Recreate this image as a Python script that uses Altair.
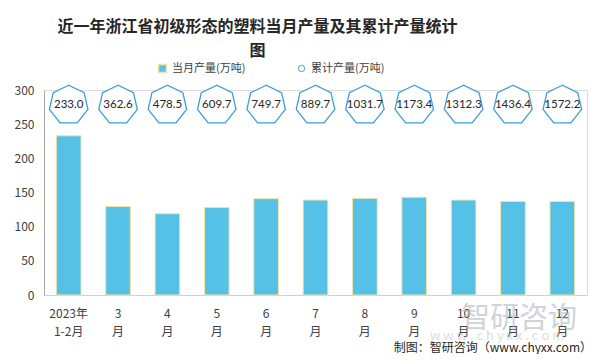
import altair as alt
import numpy as np
import pandas as pd

months = ["2023年1-2月", "3月", "4月", "5月", "6月", "7月", "8月", "9月", "10月", "11月", "12月"]
monthly = [233.0, 129.6, 119.0, 128.0, 141.0, 139.0, 141.5, 143.0, 139.0, 137.0, 137.0]
cumulative = [233.0, 362.6, 478.5, 609.7, 749.7, 889.7, 1031.7, 1173.4, 1312.3, 1436.4, 1572.2]
y_ticks = [0, 50, 100, 150, 200, 250, 300]

s_month = "当月产量(万吨)"
s_cum = "累计产量(万吨)"

df = pd.DataFrame({
    "month": months,
    "monthly": monthly,
    "cum": cumulative,
    "cum_label": [f"{v:.1f}" for v in cumulative],
    "s1": s_month,
    "s2": s_cum,
})

# heptagon path (vertex on top)
ang = np.pi / 2 + np.arange(7) * 2 * np.pi / 7
hept = "M" + " L".join(f"{np.cos(a):.4f},{-np.sin(a):.4f}" for a in ang) + " Z"

FONT = "Noto Sans CJK SC"
label_expr = ("datum.label == '2023年1-2月' ? ['2023年', '1-2月'] : "
              "[replace(datum.label, '月', ''), '月']")

x_enc = alt.X("month:N", sort=months, title=None,
              scale=alt.Scale(paddingInner=0.5, paddingOuter=0.25),
              axis=alt.Axis(labelAngle=0, labelExpr=label_expr, labelFont=FONT,
                            labelFontSize=12, labelColor="#404040", labelLineHeight=18,
                            labelPadding=13, ticks=False, domainColor="#d0d0d0"))

bars = alt.Chart(df).mark_bar(stroke="#F2E4A8", strokeWidth=1).encode(
    x=x_enc,
    y=alt.Y("monthly:Q", title=None,
            scale=alt.Scale(domain=[0, 300]),
            axis=alt.Axis(values=y_ticks, grid=False, ticks=False, labelFont=FONT,
                          labelFontSize=12, labelColor="#404040", labelPadding=10,
                          domainColor="#a6a6a6")),
    color=alt.Color("s1:N", scale=alt.Scale(domain=[s_month], range=["#56C1E7"]),
                    legend=alt.Legend(title=None, orient="none", legendX=113, legendY=-27,
                                      symbolType="square", symbolSize=64,
                                      labelFont=FONT, labelFontSize=11,
                                      labelColor="#404040", padding=0)),
)

hepts = alt.Chart(df).mark_point(shape=hept, size=1560, filled=False, fill="white",
                                 fillOpacity=1, strokeWidth=1.3, opacity=1).encode(
    x=alt.X("month:N", sort=months),
    y=alt.value(15),
    stroke=alt.Stroke("s2:N", scale=alt.Scale(domain=[s_cum], range=["#3A9FD5"]),
                      legend=alt.Legend(title=None, orient="none", legendX=252, legendY=-27,
                                        symbolType="circle", symbolSize=40,
                                        symbolStrokeWidth=1, symbolFillColor="white",
                                        labelFont=FONT, labelFontSize=11,
                                        labelColor="#404040", padding=0)),
)

labels = alt.Chart(df).mark_text(font="Lato", fontSize=11.5, color="#262626",
                                 baseline="middle").encode(
    x=alt.X("month:N", sort=months),
    y=alt.value(15),
    text="cum_label:N",
)

wm = pd.DataFrame({"t": ["智研咨询", "w w w . c h y x x . c o m", "制图：智研咨询（www.chyxx.com）"]})
wm1 = alt.Chart(wm.iloc[[0]]).mark_text(font=FONT, fontSize=29, color="#a9b0bd", opacity=0.55,
                                        align="left", baseline="middle").encode(
    x=alt.value(417), y=alt.value(229), text="t:N")
wm2 = alt.Chart(wm.iloc[[1]]).mark_text(font=FONT, fontSize=13, color="#b8bcc4", opacity=0.5,
                                        align="left", baseline="middle").encode(
    x=alt.value(386), y=alt.value(246), text="t:N")
foot = alt.Chart(wm.iloc[[2]]).mark_text(font=FONT, fontSize=12, color="#262626",
                                         align="right", baseline="middle").encode(
    x=alt.value(548), y=alt.value(258), text="t:N")

chart = alt.layer(bars, hepts, labels, wm1, wm2, foot).resolve_scale(
    color="independent"
).properties(
    width=543, height=205,
    autosize=alt.AutoSizeParams(type="none"),
    padding={"left": 36, "top": 82, "right": 8, "bottom": 59},
    title=alt.TitleParams(
        text=["近一年浙江省初级形态的塑料当月产量及其累计产量统计", "图"],
        font=FONT, fontSize=16, fontWeight="bold", color="#262626",
        lineHeight=24, anchor="middle", frame="group", dx=-58, offset=4),
).configure_view(stroke=None).configure(background="white")

chart.save("out.html", embed_options={"renderer": "svg", "actions": False})
